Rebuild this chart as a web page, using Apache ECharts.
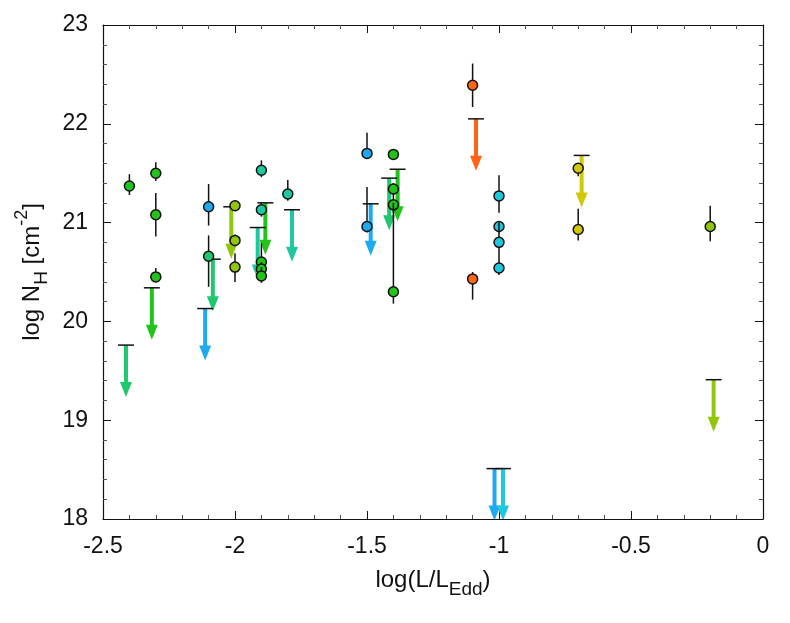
<!DOCTYPE html>
<html>
<head>
<meta charset="utf-8">
<script src="https://cdn.jsdelivr.net/npm/echarts@6/dist/echarts.min.js"></script>
<style>
  html, body { margin: 0; padding: 0; background: #fff; }
  #chart { width: 790px; height: 623px; }
</style>
</head>
<body>
<div id="chart"></div>
<script>
// detections: x, log NH, error low, error high, colour group
const ptX  = [-2.4, -2.3, -2.3, -2.3, -2.1, -2.1, -2.0, -2.0, -2.0, -1.9, -1.9, -1.9, -1.9, -1.9, -1.8,
              -1.5, -1.5, -1.4, -1.4, -1.4, -1.4, -1.1, -1.1, -1.0, -1.0, -1.0, -1.0, -0.7, -0.7, -0.2]
const ptY  = [21.37, 21.50, 21.08, 20.45, 21.16, 20.66, 21.17, 20.82, 20.55, 21.53, 21.13, 20.60, 20.53, 20.46, 21.29,
              21.70, 20.96, 21.69, 21.34, 21.18, 20.30, 22.39, 20.43, 21.27, 20.96, 20.80, 20.54, 21.55, 20.93, 20.96]
const ptLo = [21.28, 21.42, 20.86, 20.40, 20.97, 20.35, 21.12, 20.76, 20.40, 21.46, 21.06, 20.50, 20.45, 20.39, 21.22,
              21.66, 20.90, 21.64, 21.28, 21.10, 20.18, 22.17, 20.22, 21.10, 20.90, 20.60, 20.47, 21.47, 20.82, 20.81]
const ptHi = [21.49, 21.61, 21.30, 20.54, 21.39, 20.87, 21.22, 20.88, 20.69, 21.63, 21.20, 20.79, 20.60, 20.55, 21.43,
              21.91, 21.36, 21.74, 21.40, 21.30, 21.20, 22.61, 20.50, 21.48, 21.00, 21.00, 20.60, 21.60, 21.14, 21.17]
const ptGroup = ['green', 'green', 'green', 'green', 'blue', 'greenTeal', 'yellowGreen', 'yellowGreen', 'yellowGreen',
                 'teal', 'teal', 'green', 'green', 'green', 'teal',
                 'blue', 'blue', 'green', 'green', 'green', 'green', 'orange', 'orange',
                 'cyan', 'cyan', 'cyan', 'cyan', 'yellow', 'yellow', 'yellowGreen']

// upper limits
const limX = [-2.413, -2.315, -2.113, -2.084, -2.014, -1.914, -1.885, -1.784,
              -1.486, -1.416, -1.384, -1.087, -1.017, -0.985, -0.687, -0.187]
const limY = [19.76, 20.34, 20.13, 20.63, 21.16, 20.95, 21.20, 21.13,
              21.19, 21.45, 21.54, 22.05, 18.51, 18.51, 21.68, 19.41]
const limGroup = ['greenTeal', 'green', 'blue', 'greenTeal', 'yellowGreen', 'teal', 'green', 'teal',
                  'blue', 'greenTeal', 'green', 'orange', 'blue', 'cyan', 'yellow', 'yellowGreen']

const groups = ['green', 'greenTeal', 'teal', 'blue', 'cyan', 'yellowGreen', 'yellow', 'orange']
const palette = {
  green: '#22c31a',
  greenTeal: '#1ec86e',
  teal: '#1ec8a0',
  blue: '#1eaaf0',
  cyan: '#1ec8dc',
  yellowGreen: '#92c60a',
  yellow: '#d2c80a',
  orange: '#ff6414'
}

const FONT = '"Liberation Sans", Arial, Helvetica, sans-serif'

function limitItem (color) {
  return function (params, api) {
    const p = api.coord([api.value(0), api.value(1)])
    const len = 52
    const head = 15
    const tip = p[1] + len
    return {
      type: 'group',
      children: [
        { type: 'rect', shape: { x: p[0] - 2, y: p[1], width: 4, height: len - head + 1 }, style: { fill: color } },
        { type: 'polygon', shape: { points: [[p[0] - 6, tip - head], [p[0] + 6, tip - head], [p[0], tip]] }, style: { fill: color } },
        { type: 'line', shape: { x1: p[0] - 8, y1: p[1], x2: p[0] + 8, y2: p[1] }, style: { stroke: '#111', lineWidth: 1.5 } }
      ]
    }
  }
}

function pointItem (color) {
  return function (params, api) {
    const c = api.coord([api.value(0), api.value(1)])
    const lo = api.coord([api.value(0), api.value(2)])
    const hi = api.coord([api.value(0), api.value(3)])
    return {
      type: 'group',
      children: [
        { type: 'line', shape: { x1: c[0], y1: lo[1], x2: c[0], y2: hi[1] }, style: { stroke: '#111', lineWidth: 1.5 } },
        { type: 'circle', shape: { cx: c[0], cy: c[1], r: 5 }, style: { fill: color, stroke: '#111', lineWidth: 1.5 } }
      ]
    }
  }
}

const series = []
groups.forEach(g => {
  const data = []
  limX.forEach((x, i) => { if (limGroup[i] === g) data.push([x, limY[i]]) })
  if (data.length) {
    series.push({ type: 'custom', name: g + ' limit', renderItem: limitItem(palette[g]), data: data, clip: true, z: 2 })
  }
})
groups.forEach(g => {
  const data = []
  ptX.forEach((x, i) => { if (ptGroup[i] === g) data.push([x, ptY[i], ptLo[i], ptHi[i]]) })
  if (data.length) {
    series.push({ type: 'custom', name: g, renderItem: pointItem(palette[g]), data: data, clip: true, z: 3 })
  }
})

const axisCommon = {
  axisLine: { show: true, onZero: false, lineStyle: { color: '#111', width: 1.2 } },
  axisTick: { show: true, inside: true, length: 8, lineStyle: { color: '#111', width: 1 } },
  minorTick: { show: true, splitNumber: 5, length: 4, lineStyle: { color: '#555', width: 1 } },
  splitLine: { show: false },
  minorSplitLine: { show: false }
}

const chart = echarts.init(document.getElementById('chart'), null, { renderer: 'canvas' })
chart.setOption({
  animation: false,
  backgroundColor: '#fff',
  grid: { left: 103, right: 27, top: 25, bottom: 104, containLabel: false, outerBoundsMode: 'none' },
  xAxis: [
    Object.assign({
      type: 'value', min: -2.5, max: 0, interval: 0.5, position: 'bottom',
      name: '{b|log(L/L}{s|Edd}{b|)}',
      nameLocation: 'middle', nameGap: 42,
      nameTextStyle: {
        rich: {
          b: { fontSize: 24, fontFamily: FONT, color: '#111', lineHeight: 38, verticalAlign: 'middle' },
          s: { fontSize: 19, fontFamily: FONT, color: '#111', lineHeight: 19, verticalAlign: 'bottom' }
        }
      },
      axisLabel: { show: true, fontSize: 23, fontFamily: FONT, color: '#111', margin: 16 }
    }, axisCommon),
    Object.assign({
      type: 'value', min: -2.5, max: 0, interval: 0.5, position: 'top',
      axisLabel: { show: false }
    }, axisCommon)
  ],
  yAxis: [
    Object.assign({
      type: 'value', min: 18, max: 23, interval: 1, position: 'left',
      name: '{b|log N}{s|H}{b| [cm}{p|-2}{b|]}',
      nameLocation: 'middle', nameGap: 51, nameRotate: 90,
      nameTextStyle: {
        rich: {
          b: { fontSize: 24, fontFamily: FONT, color: '#111', lineHeight: 38, verticalAlign: 'middle' },
          s: { fontSize: 19, fontFamily: FONT, color: '#111', lineHeight: 19, verticalAlign: 'bottom' },
          p: { fontSize: 18, fontFamily: FONT, color: '#111', lineHeight: 18, verticalAlign: 'top' }
        }
      },
      axisLabel: { show: true, fontSize: 23, fontFamily: FONT, color: '#111', margin: 15 }
    }, axisCommon),
    Object.assign({
      type: 'value', min: 18, max: 23, interval: 1, position: 'right',
      axisLabel: { show: false }
    }, axisCommon)
  ],
  series: series
})
</script>
</body>
</html>
